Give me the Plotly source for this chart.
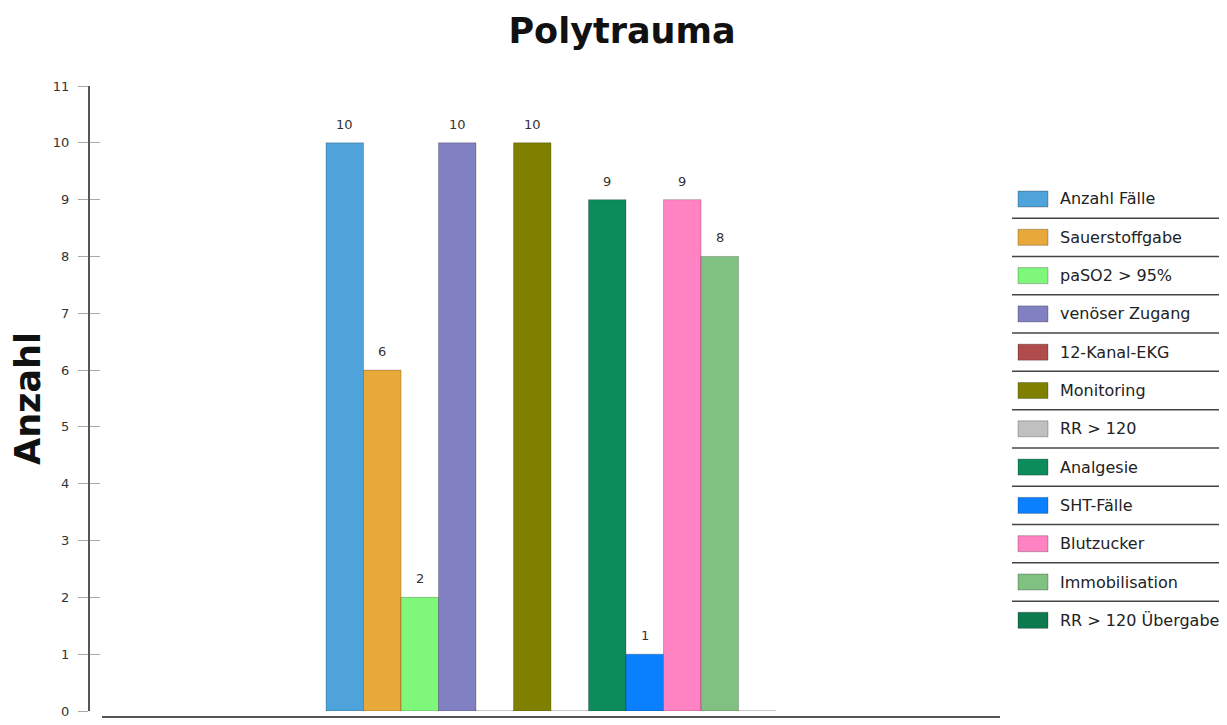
import plotly.graph_objects as go

category = [0]
series_names = ["Anzahl Fälle", "Sauerstoffgabe", "paSO2 > 95%", "venöser Zugang",
                "12-Kanal-EKG", "Monitoring", "RR > 120", "Analgesie", "SHT-Fälle",
                "Blutzucker", "Immobilisation", "RR > 120 Übergabe"]
series_values = [10, 6, 2, 10, 0, 10, 0, 9, 1, 9, 8, 0]
series_colors = ["#4ea3da", "#e8a83a", "#7ef77a", "#8080c2", "#b04c4c", "#808000",
                 "#c0c0c0", "#0b8c5a", "#0a80ff", "#ff82c2", "#80c080", "#0d7a4e"]
y_ticks = list(range(0, 12))

# page body has an 8px margin; work in screen pixels and subtract it
OFF = 8
W, H = 1227 - OFF, 725 - OFF
L, R, T, B = 90 - OFF, 1000 - OFF, 86 - OFF, 711 - OFF
pw, ph = R - L, B - T

def py(p):  # screen pixel y -> paper y
    return (B - (p - OFF)) / ph
def px(p):  # screen pixel x -> paper x
    return ((p - OFF) - L) / pw

group_center_px = 551
group_width_px = 450
r0 = -((group_center_px - OFF) - L) / pw
r1 = r0 + 1.0
gw = group_width_px / pw
bw = gw / len(series_names)

fig = go.Figure()
annotations = []
for i, (name, val, col) in enumerate(zip(series_names, series_values, series_colors)):
    off = -gw / 2 + i * bw
    fig.add_trace(go.Bar(
        x=category, y=[val], name=name, width=bw, offset=off,
        marker=dict(color=col, line=dict(color="rgba(0,0,0,0.22)", width=1)),
        showlegend=False,
    ))
    if val:
        annotations.append(dict(text=str(val), x=category[0] + off + bw / 2, y=val,
                                xref="x", yref="y", xanchor="center", yanchor="bottom",
                                yshift=9, showarrow=False,
                                font=dict(family="DejaVu Sans", size=13, color="#333")))

# manual legend with separators
leg_top = 199
leg_step = 38.3
shapes = []
for i, (name, col) in enumerate(zip(series_names, series_colors)):
    cy = leg_top + i * leg_step
    shapes.append(dict(type="rect", xref="paper", yref="paper",
                       x0=px(1018), x1=px(1048), y0=py(cy + 8), y1=py(cy - 8),
                       fillcolor=col, line=dict(color="rgba(0,0,0,0.25)", width=1)))
    annotations.append(dict(text=name, xref="paper", yref="paper", x=px(1058), y=py(cy),
                            xanchor="left", yanchor="middle", showarrow=False,
                            font=dict(family="DejaVu Sans", size=16, color="#222")))
    if i < len(series_names) - 1:
        ly = cy + leg_step / 2
        shapes.append(dict(type="line", xref="paper", yref="paper",
                           x0=px(1012), x1=px(1227), y0=py(ly), y1=py(ly),
                           line=dict(color="#444", width=1.5)))

# x-axis baseline (offset from y-axis)
shapes.append(dict(type="line", xref="paper", yref="paper",
                   x0=px(102), x1=1.0, y0=py(717), y1=py(717),
                   line=dict(color="#555", width=2)))

fig.update_layout(
    width=W, height=H,
    margin=dict(l=L, r=W - R, t=T, b=H - B, autoexpand=False),
    paper_bgcolor="white", plot_bgcolor="white",
    barmode="overlay",
    title=dict(text="<b>Polytrauma</b>", x=(622 - OFF) / W, xanchor="center",
               xref="container", y=1 - (31 - OFF) / H, yanchor="middle", yref="container",
               font=dict(family="DejaVu Sans", size=35, color="#111")),
    xaxis=dict(range=[r0, r1], showticklabels=False, showline=False, showgrid=False,
               zeroline=False, ticks="", automargin=False),
    yaxis=dict(range=[0, 11], tickvals=y_ticks, showgrid=False, zeroline=False,
               showline=True, linecolor="#555", linewidth=2,
               ticks="outside", ticklen=10, tickcolor="#aaa", tickwidth=1,
               ticklabelstandoff=6, automargin=False,
               tickfont=dict(family="DejaVu Sans", size=13, color="#333"),
               title=dict(text="<b>Anzahl</b>", standoff=10,
                          font=dict(family="DejaVu Sans", size=35, color="#111"))),
    yaxis2=dict(range=[0, 11], tickvals=y_ticks, overlaying="y", side="left",
                anchor="x", showticklabels=False, showgrid=False, zeroline=False,
                automargin=False,
                ticks="inside", ticklen=10, tickcolor="#aaa", tickwidth=1),
    shapes=shapes, annotations=annotations,
)
fig.add_trace(go.Scatter(x=category, y=[None], yaxis="y2", showlegend=False,
                         hoverinfo="skip"))

fig.write_html("out.html")
